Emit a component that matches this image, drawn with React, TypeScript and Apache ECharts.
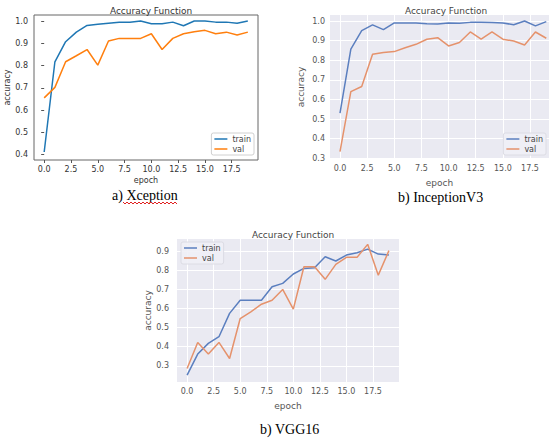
import React, { useEffect, useRef } from "react";
import * as echarts from "echarts";

const epochs = [0, 1, 2, 3, 4, 5, 6, 7, 8, 9, 10, 11, 12, 13, 14, 15, 16, 17, 18, 19];

const xceptionTrain = [0.412, 0.817, 0.907, 0.95, 0.98, 0.985, 0.99, 0.994, 0.994, 1.0, 0.988, 0.988, 0.995, 0.979, 1.0, 1.0, 0.995, 0.995, 0.99, 1.0];
const xceptionVal = [0.655, 0.702, 0.817, 0.844, 0.872, 0.802, 0.91, 0.922, 0.922, 0.922, 0.943, 0.872, 0.922, 0.943, 0.952, 0.958, 0.943, 0.95, 0.937, 0.95];

const inceptionTrain = [0.53, 0.857, 0.951, 0.98, 0.956, 0.99, 0.99, 0.99, 0.986, 0.985, 0.99, 0.988, 0.993, 0.993, 0.992, 0.99, 0.981, 1.0, 0.975, 0.997];
const inceptionVal = [0.334, 0.64, 0.666, 0.83, 0.839, 0.844, 0.864, 0.881, 0.907, 0.915, 0.873, 0.89, 0.944, 0.907, 0.944, 0.907, 0.898, 0.878, 0.944, 0.912];

const vggTrain = [0.251, 0.361, 0.417, 0.452, 0.574, 0.643, 0.643, 0.643, 0.713, 0.731, 0.78, 0.809, 0.813, 0.87, 0.848, 0.879, 0.891, 0.91, 0.884, 0.879];
const vggVal = [0.286, 0.422, 0.361, 0.422, 0.338, 0.547, 0.582, 0.622, 0.643, 0.699, 0.596, 0.818, 0.818, 0.752, 0.83, 0.867, 0.867, 0.935, 0.774, 0.902];

const xTicks = [0, 2.5, 5, 7.5, 10, 12.5, 15, 17.5];
const yTicksXception = [0.4, 0.5, 0.6, 0.7, 0.8, 0.9, 1.0];
const yTicksInception = [0.3, 0.4, 0.5, 0.6, 0.7, 0.8, 0.9, 1.0];
const yTicksVgg = [0.3, 0.4, 0.5, 0.6, 0.7, 0.8, 0.9];

const titleText = "Accuracy Function";
const xName = "epoch";
const yName = "accuracy";
const captions = ["a) Xception", "b) InceptionV3", "b) VGG16"];

const SANS = '"DejaVu Sans", sans-serif';
const SERIF = '"Liberation Serif", "Times New Roman", serif';

const pairs = (vals: number[]) => epochs.map((e, i) => [e, vals[i]]);

export default function App() {
  const ref = useRef<HTMLDivElement>(null);
  useEffect(() => {
    if (!ref.current) return;
    const chart = echarts.init(ref.current, undefined, { renderer: "svg" });

    const fmt = (v: number) => v.toFixed(1);

    const classicX = (gridIndex: number, min: number, max: number, gap: number) => ({
      type: "value", gridIndex, min, max,
      name: xName, nameLocation: "middle", nameGap: gap,
      nameTextStyle: { fontFamily: SANS, fontSize: 8, color: "#333" },
      axisLine: { show: false },
      axisTick: { show: true, length: 3, customValues: xTicks, lineStyle: { color: "#555" } },
      axisLabel: { customValues: xTicks, formatter: fmt, fontFamily: SANS, fontSize: 8, color: "#333", margin: 5 },
      splitLine: { show: false },
    });
    const classicY = (gridIndex: number, min: number, max: number, ticks: number[], gap: number) => ({
      type: "value", gridIndex, min, max,
      name: yName, nameLocation: "middle", nameGap: gap, nameRotate: 90,
      nameTextStyle: { fontFamily: SANS, fontSize: 8, color: "#333" },
      axisLine: { show: false },
      axisTick: { show: true, length: 3, customValues: ticks, lineStyle: { color: "#555" } },
      axisLabel: { customValues: ticks, formatter: fmt, fontFamily: SANS, fontSize: 8, color: "#333", margin: 6 },
      splitLine: { show: false },
    });
    const seabornX = (gridIndex: number, min: number, max: number, gap: number, margin: number) => ({
      type: "value", gridIndex, min, max,
      name: xName, nameLocation: "middle", nameGap: gap,
      nameTextStyle: { fontFamily: SANS, fontSize: 9, color: "#555" },
      axisLine: { show: false },
      axisTick: { show: false, customValues: xTicks },
      axisLabel: { customValues: xTicks, formatter: fmt, fontFamily: SANS, fontSize: 8, color: "#555", margin },
      splitLine: { show: true, customValues: xTicks, lineStyle: { color: "#ffffff", width: 1 } },
    });
    const seabornY = (gridIndex: number, min: number, max: number, ticks: number[], gap: number, margin: number) => ({
      type: "value", gridIndex, min, max,
      name: yName, nameLocation: "middle", nameGap: gap, nameRotate: 90,
      nameTextStyle: { fontFamily: SANS, fontSize: 9, color: "#555" },
      axisLine: { show: false },
      axisTick: { show: false, customValues: ticks },
      axisLabel: { customValues: ticks, formatter: fmt, fontFamily: SANS, fontSize: 8, color: "#555", margin },
      splitLine: { show: true, customValues: ticks, lineStyle: { color: "#ffffff", width: 1 } },
    });

    const line = (name: string, idx: number, vals: number[], color: string) => ({
      type: "line", name, xAxisIndex: idx, yAxisIndex: idx,
      data: pairs(vals), showSymbol: false, symbol: "none",
      lineStyle: { color, width: 1.5 }, itemStyle: { color },
    });

    const legend = (names: string[], pos: any, bg: string, border: string) => ({
      data: names, ...pos, orient: "vertical", icon: "rect",
      itemWidth: 13, itemHeight: 1.5, itemGap: 2,
      padding: [2, 3, 2, 3], backgroundColor: bg, borderColor: border, borderWidth: 1, borderRadius: 2,
      formatter: (n: string) => n.split("#")[0],
      textStyle: { fontFamily: SANS, fontSize: 8, color: "#444", padding: [0, 0, 0, 0] },
      selectedMode: false,
    });

    // zigzag for spell-check underline (decoration)
    const zig: number[][] = [];
    for (let x = 123; x <= 177; x += 2) zig.push([x, (x - 123) % 4 === 0 ? 202 : 204]);

    const option: any = {
      animation: false,
      backgroundColor: "#ffffff",
      title: [
        { text: titleText, left: 146, top: 1, textAlign: "center", textStyle: { fontFamily: SANS, fontSize: 9, fontWeight: "normal", color: "#333" } },
        { text: titleText, left: 441, top: 1, textAlign: "center", textStyle: { fontFamily: SANS, fontSize: 9, fontWeight: "normal", color: "#444" } },
        { text: titleText, left: 288, top: 225, textAlign: "center", textStyle: { fontFamily: SANS, fontSize: 9, fontWeight: "normal", color: "#444" } },
      ],
      grid: [
        { left: 34, top: 15, width: 224, height: 145, show: true, backgroundColor: "#ffffff", borderColor: "#666", borderWidth: 1 },
        { left: 330, top: 15, width: 219, height: 144, show: true, backgroundColor: "#EAEAF2", borderWidth: 0 },
        { left: 177, top: 239, width: 222, height: 143, show: true, backgroundColor: "#EAEAF2", borderWidth: 0 },
      ],
      xAxis: [
        classicX(0, -0.95, 19.95, 16),
        seabornX(1, -0.92, 19.25, 19, 5),
        seabornX(2, -0.95, 19.95, 19, 5),
      ],
      yAxis: [
        classicY(0, 0.376, 1.027, yTicksXception, 21),
        seabornY(1, 0.2964, 1.0306, yTicksInception, 25, 5),
        seabornY(2, 0.215, 0.963, yTicksVgg, 25, 8),
      ],
      legend: [
        legend(["train#1", "val#1"], { right: 295, top: 133 }, "rgba(255,255,255,0.9)", "#d0d0d0"),
        legend(["train#2", "val#2"], { right: 3, top: 133 }, "rgba(240,240,246,0.9)", "#dcdce4"),
        legend(["train#3", "val#3"], { left: 181, top: 242 }, "rgba(240,240,246,0.9)", "#dcdce4"),
      ],
      series: [
        line("train#1", 0, xceptionTrain, "#1f77b4"),
        line("val#1", 0, xceptionVal, "#ff7f0e"),
        line("train#2", 1, inceptionTrain, "#5b7fbf"),
        line("val#2", 1, inceptionVal, "#e5926c"),
        line("train#3", 2, vggTrain, "#5b7fbf"),
        line("val#3", 2, vggVal, "#e5926c"),
      ],
      graphic: [
        { type: "text", left: 112, top: 188, style: { text: captions[0], font: `14px ${SERIF}`, fill: "#000" } },
        { type: "text", left: 398, top: 190, style: { text: captions[1], font: `14px ${SERIF}`, fill: "#000" } },
        { type: "text", left: 260, top: 422, style: { text: captions[2], font: `14px ${SERIF}`, fill: "#000" } },
        { type: "polyline", shape: { points: zig }, style: { stroke: "#e02020", lineWidth: 1, fill: null } },
      ],
    };
    chart.setOption(option);
    return () => chart.dispose();
  }, []);
  return <div ref={ref} style={{ position: "absolute", left: 0, top: 0, width: 549, height: 441 }} />;
}
